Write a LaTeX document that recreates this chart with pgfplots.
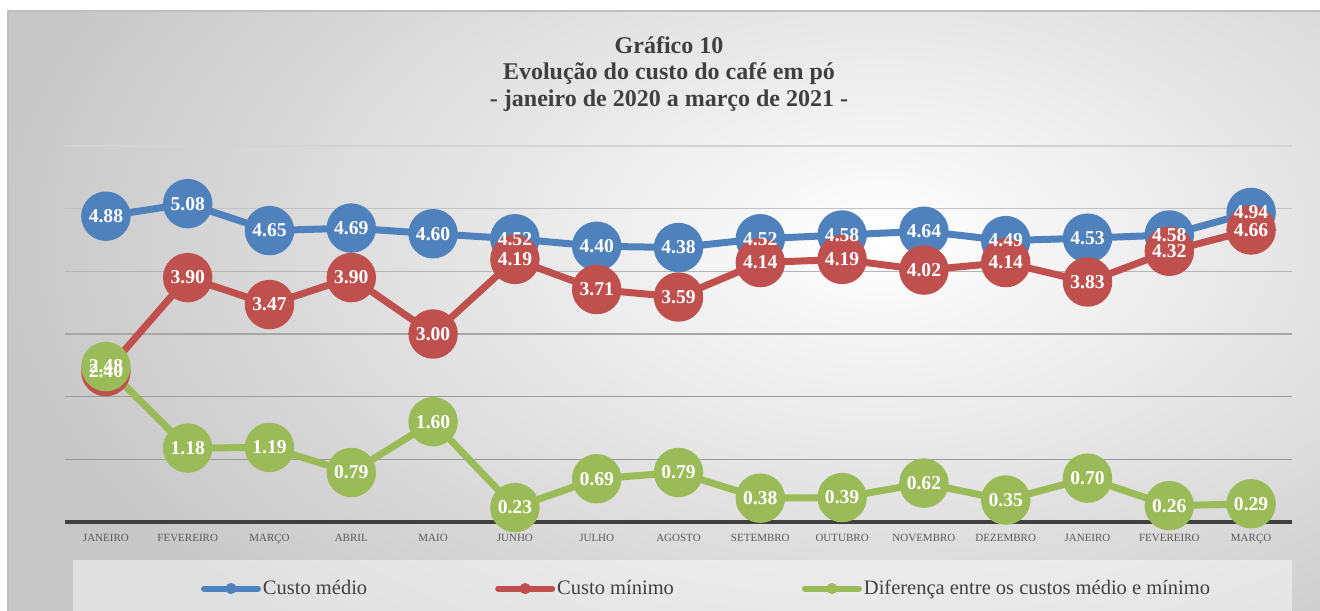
\documentclass[border=0pt]{standalone}
\usepackage{fontspec}
\setmainfont{Liberation Serif}
\usepackage{pgfplots}
\pgfplotsset{compat=1.18}
\definecolor{cblue}{HTML}{4F81BD}
\definecolor{cred}{HTML}{C0504D}
\definecolor{cgreen}{HTML}{9BBB59}
\definecolor{ctext}{HTML}{404040}
\begin{document}
\begin{tikzpicture}
\path[use as bounding box] (0,0) rectangle (660pt,305pt);
\fill[white] (0,0) rectangle (660pt,305pt);
\begin{scope}
\clip (4pt,-2pt) rectangle (664pt,299.5pt);
\fill[black!22] (4pt,-2pt) rectangle (664pt,299.5pt);
\shade[inner color=white, outer color=black!22] (440pt,185pt) ellipse (450pt and 260pt);
\end{scope}
\draw[black!25, line width=1pt] (4pt,-5pt) -- (4pt,299.5pt) -- (665pt,299.5pt);
\fill[white, opacity=0.45] (36.5pt,-2pt) rectangle (646pt,25pt);
\node[align=center, text=ctext, font=\bfseries\fontsize{12}{13.25}\selectfont] at (334.5pt,268pt)
  {Gráfico 10\\Evolução do custo do café em pó\\- janeiro de 2020 a março de 2021 -};
\begin{axis}[
  at={(32.5pt,44pt)}, anchor=south west,
  scale only axis, width=613.5pt, height=188pt,
  xmin=-0.5, xmax=14.5, ymin=0, ymax=6,
  clip=false,
  axis line style={draw=none},
  ytick=\empty,
  xtick={0,...,14},
  xticklabels={JANEIRO,FEVEREIRO,MARÇO,ABRIL,MAIO,JUNHO,JULHO,AGOSTO,SETEMBRO,OUTUBRO,NOVEMBRO,DEZEMBRO,JANEIRO,FEVEREIRO,MARÇO},
  major tick length=0pt,
  xticklabel style={font=\fontsize{5.5}{6}\selectfont, text=black!65, anchor=base, yshift=-9.8pt},
  legend columns=3,
  legend style={at={(0.1105,-0.177)}, anchor=west, draw=none, fill=none, inner sep=0pt,
    font=\fontsize{10.25}{11}\selectfont, text=ctext,
    /tikz/every even column/.append style={column sep=63pt},
    nodes={inner sep=1pt}},
  legend image code/.code={
    \draw[#1, line width=3pt, line cap=round] (0pt,0pt) -- (27pt,0pt);
    \fill[#1, draw=none] (13.5pt,0pt) circle (2.8pt);},
]
\draw[color={rgb,255:red,212;green,212;blue,212}, line width=0.8pt] (axis cs:-0.5,6) -- (axis cs:14.5,6);
\draw[color={rgb,255:red,194;green,194;blue,194}, line width=0.8pt] (axis cs:-0.5,5) -- (axis cs:14.5,5);
\draw[color={rgb,255:red,180;green,180;blue,180}, line width=0.8pt] (axis cs:-0.5,4) -- (axis cs:14.5,4);
\draw[color={rgb,255:red,166;green,166;blue,166}, line width=0.8pt] (axis cs:-0.5,3) -- (axis cs:14.5,3);
\draw[color={rgb,255:red,156;green,156;blue,156}, line width=0.8pt] (axis cs:-0.5,2) -- (axis cs:14.5,2);
\draw[color={rgb,255:red,152;green,152;blue,152}, line width=0.8pt] (axis cs:-0.5,1) -- (axis cs:14.5,1);
\draw[color=ctext, line width=2pt] (axis cs:-0.5,0) -- (axis cs:14.5,0);

\addplot[color=cblue, line width=3.5pt, mark=*, mark size=10.6pt, mark options={draw=none, fill=cblue}]
 coordinates {(0,4.88)(1,5.08)(2,4.65)(3,4.69)(4,4.60)(5,4.52)(6,4.40)(7,4.38)(8,4.52)(9,4.58)(10,4.64)(11,4.49)(12,4.53)(13,4.58)(14,4.94)};
\addlegendentry{Custo médio}
\addplot[color=cred, line width=3.5pt, mark=*, mark size=10.6pt, mark options={draw=none, fill=cred}]
 coordinates {(0,2.40)(1,3.90)(2,3.47)(3,3.90)(4,3.00)(5,4.19)(6,3.71)(7,3.59)(8,4.14)(9,4.19)(10,4.02)(11,4.14)(12,3.83)(13,4.32)(14,4.66)};
\addlegendentry{Custo mínimo}
\addplot[color=cgreen, line width=3.5pt, mark=*, mark size=10.6pt, mark options={draw=none, fill=cgreen}]
 coordinates {(0,2.48)(1,1.18)(2,1.19)(3,0.79)(4,1.60)(5,0.23)(6,0.69)(7,0.79)(8,0.38)(9,0.39)(10,0.62)(11,0.35)(12,0.70)(13,0.26)(14,0.29)};
\addlegendentry{Diferença entre os custos médio e mínimo}

\pgfplotsset{every axis plot/.append style={forget plot}}
\addplot[draw=none, mark=none, nodes near coords={\pgfmathprintnumber[fixed,fixed zerofill,precision=2,assume math mode=true]{\pgfplotspointmeta}},
  point meta=y, nodes near coords style={anchor=center, text=white, font=\bfseries\fontsize{9.8}{10}\selectfont}]
 coordinates {(0,4.88)(1,5.08)(2,4.65)(3,4.69)(4,4.60)(5,4.52)(6,4.40)(7,4.38)(8,4.52)(9,4.58)(10,4.64)(11,4.49)(12,4.53)(13,4.58)(14,4.94)};
\addplot[draw=none, mark=none, nodes near coords={\pgfmathprintnumber[fixed,fixed zerofill,precision=2,assume math mode=true]{\pgfplotspointmeta}},
  point meta=y, nodes near coords style={anchor=center, text=white, font=\bfseries\fontsize{9.8}{10}\selectfont}]
 coordinates {(0,2.40)(1,3.90)(2,3.47)(3,3.90)(4,3.00)(5,4.19)(6,3.71)(7,3.59)(8,4.14)(9,4.19)(10,4.02)(11,4.14)(12,3.83)(13,4.32)(14,4.66)};
\addplot[draw=none, mark=none, nodes near coords={\pgfmathprintnumber[fixed,fixed zerofill,precision=2,assume math mode=true]{\pgfplotspointmeta}},
  point meta=y, nodes near coords style={anchor=center, text=white, font=\bfseries\fontsize{9.8}{10}\selectfont}]
 coordinates {(0,2.48)(1,1.18)(2,1.19)(3,0.79)(4,1.60)(5,0.23)(6,0.69)(7,0.79)(8,0.38)(9,0.39)(10,0.62)(11,0.35)(12,0.70)(13,0.26)(14,0.29)};
\end{axis}
\end{tikzpicture}
\end{document}
